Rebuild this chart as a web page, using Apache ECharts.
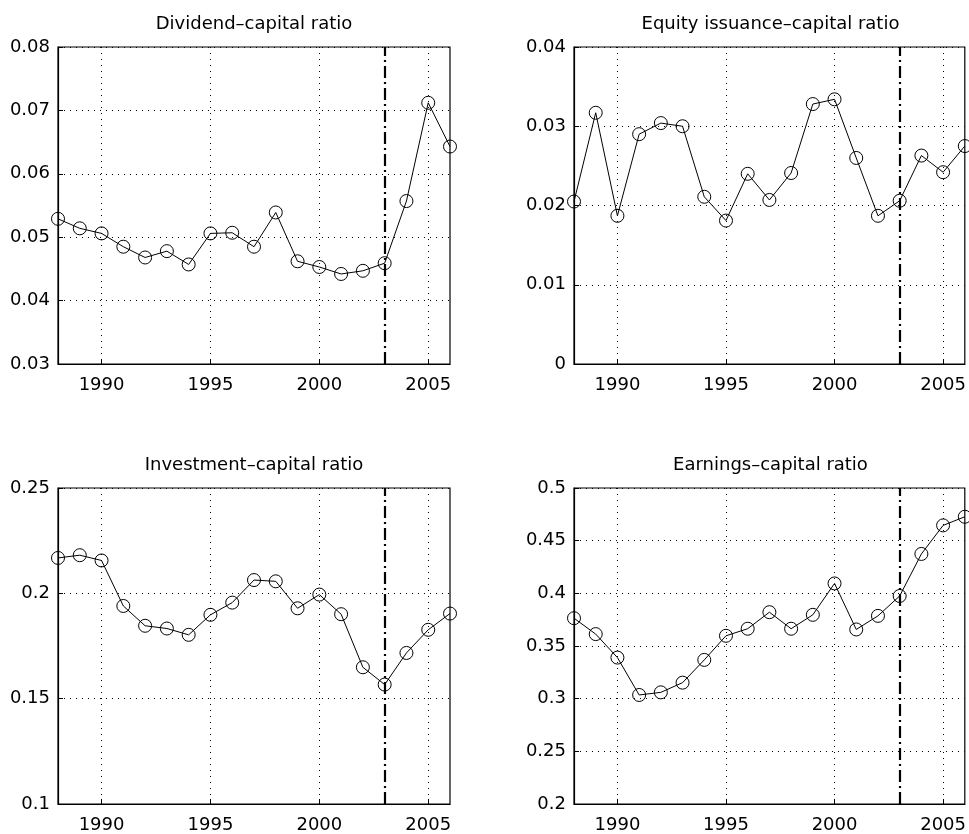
<!DOCTYPE html>
<html>
<head>
<meta charset="utf-8">
<title>Capital ratios</title>
<script src="https://cdn.jsdelivr.net/npm/echarts@6/dist/echarts.min.js"></script>
<style>
  html, body { margin: 0; padding: 0; background: #fff; }
</style>
</head>
<body>
<div id="main" style="width: 969px; height: 834px;"></div>
<script>
var years = [1988, 1989, 1990, 1991, 1992, 1993, 1994, 1995, 1996, 1997,
             1998, 1999, 2000, 2001, 2002, 2003, 2004, 2005, 2006];
var xTicks = [1990, 1995, 2000, 2005];
var breakYear = 2003;

var titles = ['Dividend\u2013capital ratio', 'Equity issuance\u2013capital ratio',
              'Investment\u2013capital ratio', 'Earnings\u2013capital ratio'];

var dividend = [0.0529, 0.0514, 0.0506, 0.0485, 0.0468, 0.0478, 0.0457, 0.0506, 0.0507, 0.0485,
                0.0539, 0.0462, 0.0453, 0.0442, 0.0447, 0.0459, 0.0557, 0.0712, 0.0643];
var equity = [0.0205, 0.0317, 0.0187, 0.0290, 0.0304, 0.0300, 0.0211, 0.0181, 0.0240, 0.0207,
              0.0241, 0.0328, 0.0334, 0.0260, 0.0187, 0.0206, 0.0263, 0.0242, 0.0275];
var investment = [0.2168, 0.2181, 0.2156, 0.1940, 0.1846, 0.1833, 0.1803, 0.1898, 0.1956, 0.2063,
                  0.2057, 0.1929, 0.1994, 0.1901, 0.1649, 0.1567, 0.1717, 0.1827, 0.1904];
var earnings = [0.3764, 0.3613, 0.3390, 0.3035, 0.3060, 0.3152, 0.3368, 0.3597, 0.3664, 0.3821,
                0.3664, 0.3796, 0.4094, 0.3657, 0.3786, 0.3975, 0.4374, 0.4645, 0.4727];

// y axis ranges [min, max, interval]
var yRanges = [[0.03, 0.08, 0.01], [0, 0.04, 0.01], [0.1, 0.25, 0.05], [0.2, 0.5, 0.05]];
var allSeries = [dividend, equity, investment, earnings];

var fontName = 'DejaVu Sans';
var fontSize = 18;

var myChart = echarts.init(document.getElementById('main'));

// panel boxes
var grids = [
  {left: 58, top: 47, width: 392, height: 317},
  {left: 574, top: 47, width: 393, height: 317},
  {left: 58, top: 488, width: 392, height: 318},
  {left: 574, top: 488, width: 393, height: 318}
];

var dotted = {color: '#000', width: 1, type: [1, 5]};

var option = {
  animation: false,
  backgroundColor: '#fff',
  textStyle: {fontFamily: fontName},
  title: [],
  grid: [],
  xAxis: [],
  yAxis: [],
  series: []
};

for (var i = 0; i < 4; i++) {
  var g = grids[i];
  option.title.push({
    text: titles[i],
    left: g.left + g.width / 2,
    top: g.top - 32,
    textAlign: 'center',
    padding: 0,
    textStyle: {fontFamily: fontName, fontSize: fontSize, fontWeight: 'normal', color: '#000'}
  });
  option.grid.push({
    left: g.left, top: g.top, width: g.width, height: g.height,
    show: true, borderColor: '#000', borderWidth: 1.2, backgroundColor: 'transparent'
  });
  option.xAxis.push({
    type: 'value',
    gridIndex: i,
    min: 1988,
    max: 2006,
    axisLine: {show: true, onZero: false, lineStyle: {color: '#000', width: 1.2}},
    axisTick: {show: true, inside: true, length: 5, customValues: xTicks, lineStyle: {color: '#000'}},
    axisLabel: {
      customValues: xTicks, margin: 12, color: '#000', fontSize: fontSize, fontFamily: fontName,
      formatter: function (v) { return String(v); }
    },
    splitLine: {show: true, lineStyle: dotted}
  });
  var r = yRanges[i];
  option.yAxis.push({
    type: 'value',
    gridIndex: i,
    min: r[0],
    max: r[1],
    interval: r[2],
    axisLine: {show: true, onZero: false, lineStyle: {color: '#000', width: 1.2}},
    axisTick: {show: true, inside: true, length: 5, lineStyle: {color: '#000'}},
    axisLabel: {margin: 8, color: '#000', fontSize: fontSize, fontFamily: fontName},
    splitLine: {show: true, lineStyle: dotted}
  });
  var pts = [];
  for (var k = 0; k < years.length; k++) {
    pts.push([years[k], allSeries[i][k]]);
  }
  option.series.push({
    type: 'line',
    xAxisIndex: i,
    yAxisIndex: i,
    data: pts,
    clip: false,
    symbol: 'circle',
    symbolSize: 13,
    showAllSymbol: true,
    lineStyle: {color: '#000', width: 1},
    itemStyle: {color: 'transparent', borderColor: '#000', borderWidth: 1},
    emphasis: {disabled: true},
    markLine: {
      silent: true,
      symbol: 'none',
      label: {show: false},
      lineStyle: {color: '#000', width: 2.2, type: [12, 4, 2, 4]},
      data: [{xAxis: breakYear}]
    }
  });
}

myChart.setOption(option);
</script>
</body>
</html>
